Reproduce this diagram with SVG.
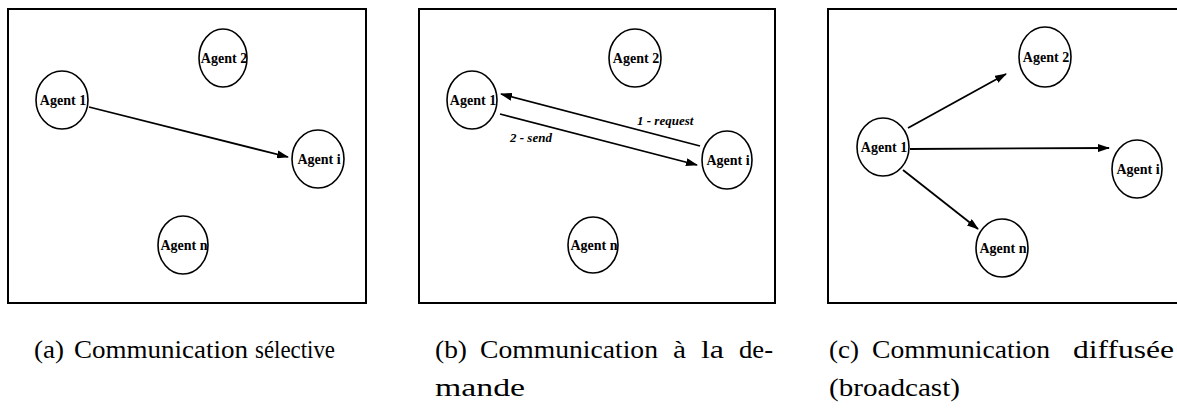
<svg xmlns="http://www.w3.org/2000/svg" width="1177" height="408" viewBox="0 0 1177 408">
<style>
.frame{fill:#fff;stroke:#000;stroke-width:2}
.node{fill:#fff;stroke:#000;stroke-width:1.6}
.lbl{font-family:"Liberation Serif","Times New Roman",serif;font-weight:bold;font-size:14px;text-anchor:middle;fill:#000}
.msg{font-family:"Liberation Serif","Times New Roman",serif;font-weight:bold;font-style:italic;font-size:13px;fill:#000}
.cap{font-family:"Liberation Serif","Times New Roman",serif;font-size:25px;fill:#000}
.edge{stroke:#000;stroke-width:1.8;fill:none;marker-end:url(#ah)}
</style>
<defs>
<marker id="ah" markerUnits="userSpaceOnUse" markerWidth="12" markerHeight="8" refX="11" refY="4" orient="auto">
<path d="M0,0 L12,4 L0,8 z" fill="#000"/>
</marker>
</defs>
<rect width="1177" height="408" fill="#fff"/>
<g id="frames">
<rect class="frame" x="8" y="9" width="358" height="294"/>
<rect class="frame" x="419" y="9" width="356" height="294"/>
<rect class="frame" x="828" y="9" width="360" height="294"/>
</g>
<g id="connectors">
<line class="edge" x1="89" y1="107" x2="288" y2="157"/>
<line class="edge" x1="700" y1="146" x2="501" y2="94"/>
<line class="edge" x1="500" y1="114" x2="697" y2="165"/>
<line class="edge" x1="908" y1="128" x2="1006" y2="74"/>
<line class="edge" x1="910" y1="149" x2="1109" y2="148"/>
<line class="edge" x1="903" y1="170" x2="978" y2="229"/>
</g>
<g id="a-agent2"><ellipse class="node" cx="223" cy="58" rx="24" ry="29"/><text class="lbl" x="224" y="63">Agent 2</text></g>
<g id="a-agent1"><ellipse class="node" cx="62" cy="100" rx="26" ry="29"/><text class="lbl" x="63" y="105">Agent 1</text></g>
<g id="a-agenti"><ellipse class="node" cx="318" cy="159" rx="26" ry="29"/><text class="lbl" x="319" y="164">Agent i</text></g>
<g id="a-agentn"><ellipse class="node" cx="183" cy="245" rx="25" ry="29"/><text class="lbl" x="184" y="250">Agent n</text></g>
<g id="b-agent2"><ellipse class="node" cx="635" cy="58" rx="26" ry="29"/><text class="lbl" x="636" y="63">Agent 2</text></g>
<g id="b-agent1"><ellipse class="node" cx="472" cy="100" rx="25" ry="29"/><text class="lbl" x="473" y="105">Agent 1</text></g>
<g id="b-agenti"><ellipse class="node" cx="727" cy="160" rx="25" ry="29"/><text class="lbl" x="728" y="165">Agent i</text></g>
<g id="b-agentn"><ellipse class="node" cx="593" cy="245" rx="25" ry="28"/><text class="lbl" x="594" y="250">Agent n</text></g>
<g id="b-labels">
<text class="msg" x="637" y="125">1 - request</text>
<text class="msg" x="510" y="142">2 - send</text>
</g>
<g id="c-agent2"><ellipse class="node" cx="1045" cy="57" rx="26" ry="30"/><text class="lbl" x="1046" y="62">Agent 2</text></g>
<g id="c-agent1"><ellipse class="node" cx="883" cy="147" rx="26" ry="29"/><text class="lbl" x="884" y="152">Agent 1</text></g>
<g id="c-agenti"><ellipse class="node" cx="1137" cy="169" rx="25" ry="29"/><text class="lbl" x="1138" y="174">Agent i</text></g>
<g id="c-agentn"><ellipse class="node" cx="1002" cy="248" rx="26" ry="29"/><text class="lbl" x="1003" y="253">Agent n</text></g>
<g id="captions">
<text class="cap" x="34" y="358" textLength="30" lengthAdjust="spacingAndGlyphs">(a)</text>
<text class="cap" x="74" y="358" textLength="174" lengthAdjust="spacingAndGlyphs">Communication</text>
<text class="cap" x="255" y="358" textLength="80" lengthAdjust="spacingAndGlyphs">sélective</text>
<text class="cap" x="435" y="358" textLength="32" lengthAdjust="spacingAndGlyphs">(b)</text>
<text class="cap" x="480" y="358" textLength="178" lengthAdjust="spacingAndGlyphs">Communication</text>
<text class="cap" x="673" y="358" textLength="13" lengthAdjust="spacingAndGlyphs">à</text>
<text class="cap" x="701" y="358" textLength="23" lengthAdjust="spacingAndGlyphs">la</text>
<text class="cap" x="739" y="358" textLength="34" lengthAdjust="spacingAndGlyphs">de-</text>
<text class="cap" x="435" y="396" textLength="90" lengthAdjust="spacingAndGlyphs">mande</text>
<text class="cap" x="829" y="358" textLength="30" lengthAdjust="spacingAndGlyphs">(c)</text>
<text class="cap" x="872" y="358" textLength="178" lengthAdjust="spacingAndGlyphs">Communication</text>
<text class="cap" x="1073" y="358" textLength="101" lengthAdjust="spacingAndGlyphs">diffusée</text>
<text class="cap" x="829" y="396" textLength="131" lengthAdjust="spacingAndGlyphs">(broadcast)</text>
</g>
</svg>
